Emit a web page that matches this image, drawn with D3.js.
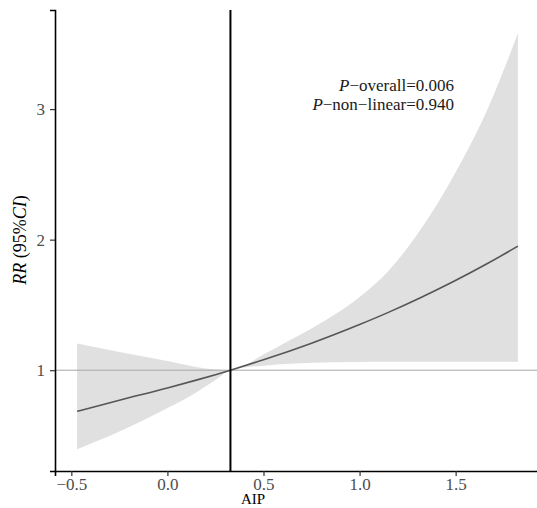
<!DOCTYPE html>
<html><head><meta charset="utf-8">
<script src="https://cdn.jsdelivr.net/npm/d3@7"></script>
<style>body{margin:0;background:#fff}svg{display:block}</style>
</head><body>
<svg id="c" width="537" height="508"></svg>
<script>
const aip   = [-0.47,-0.25,0,0.15,0.25,0.328,0.5,0.637,0.75,1.0,1.15,1.314,1.486,1.663,1.824];
const rr    = [0.685,0.770,0.864,0.924,0.966,1,1.080,1.148,1.207,1.350,1.443,1.553,1.677,1.815,1.95];
const upper = [1.205,1.14,1.07,1.025,1.006,1,1.12,1.23,1.32,1.56,1.76,2.07,2.48,2.99,3.58];
const lower = [0.395,0.53,0.71,0.83,0.925,1,1.035,1.05,1.058,1.063,1.064,1.065,1.065,1.065,1.065];
const xTicks = [-0.5,0.0,0.5,1.0,1.5];
const yTicks = [1,2,3];
const refX = 0.328;
const refY = 1;
const pOverall = "0.006", pNonLinear = "0.940";

const svg = d3.select("#c");
const font = "'Liberation Serif','DejaVu Serif',serif";
const x = d3.scaleLinear().domain([-0.585,1.939]).range([55,540]);
const y = d3.scaleLinear().domain([0.228,3.759]).range([471,10]);

const data = aip.map((a,i)=>({a, r:rr[i], u:upper[i], l:lower[i]}));

svg.append("path").datum(data)
  .attr("d", d3.area().x(d=>x(d.a)).y0(d=>y(d.l)).y1(d=>y(d.u)).curve(d3.curveMonotoneX))
  .attr("fill","#e0e0e0");

svg.append("line").attr("x1",x.range()[0]).attr("x2",540).attr("y1",y(refY)).attr("y2",y(refY))
  .attr("stroke","#a8a8a8").attr("stroke-width",1);

svg.append("path").datum(data)
  .attr("d", d3.line().x(d=>x(d.a)).y(d=>y(d.r)).curve(d3.curveMonotoneX))
  .attr("fill","none").attr("stroke","#555").attr("stroke-width",1.6);

svg.append("line").attr("x1",x(refX)).attr("x2",x(refX)).attr("y1",10).attr("y2",471)
  .attr("stroke","#000").attr("stroke-width",2);

const xa = svg.append("g").attr("transform","translate(0,471)")
  .call(d3.axisBottom(x).tickValues(xTicks).tickFormat(d3.format(".1f")).tickSize(5).tickPadding(2));
const ya = svg.append("g").attr("transform","translate(55,0)")
  .call(d3.axisLeft(y).tickValues(yTicks).tickFormat(d3.format("d")).tickSize(5).tickPadding(5));
[xa,ya].forEach(g=>{
  g.attr("font-family",font).attr("font-size",17);
  g.select(".domain").attr("stroke","#000").attr("stroke-width",1.6);
  g.selectAll(".tick line").attr("stroke","#333").attr("stroke-width",1.2);
  g.selectAll("text").style("font-family",font).style("font-size","17px").attr("fill","#4d4d4d");
});
xa.selectAll("text").text(d=>d3.format(".1f")(d).replace("-","\u2212"));

svg.append("text").attr("x",253).attr("y",504).attr("text-anchor","middle")
  .style("font-family",font).style("font-size","15px").attr("fill","#000").text("AIP");

const yl = svg.append("text").attr("transform","translate(26,240) rotate(-90)").attr("text-anchor","middle")
  .style("font-family",font).style("font-size","18px").attr("fill","#000");
yl.append("tspan").attr("font-style","italic").text("RR");
yl.append("tspan").text(" (95%");
yl.append("tspan").attr("font-style","italic").text("CI");
yl.append("tspan").text(")");

const t1 = svg.append("text").attr("x",454).attr("y",91).attr("text-anchor","end")
  .style("font-family",font).style("font-size","17px").attr("fill","#1a1a1a");
t1.append("tspan").attr("font-style","italic").text("P");
t1.append("tspan").text("\u2212overall=" + pOverall);
const t2 = svg.append("text").attr("x",454).attr("y",110).attr("text-anchor","end")
  .style("font-family",font).style("font-size","17px").attr("fill","#1a1a1a");
t2.append("tspan").attr("font-style","italic").text("P");
t2.append("tspan").text("\u2212non\u2212linear=" + pNonLinear);
</script>
</body></html>
